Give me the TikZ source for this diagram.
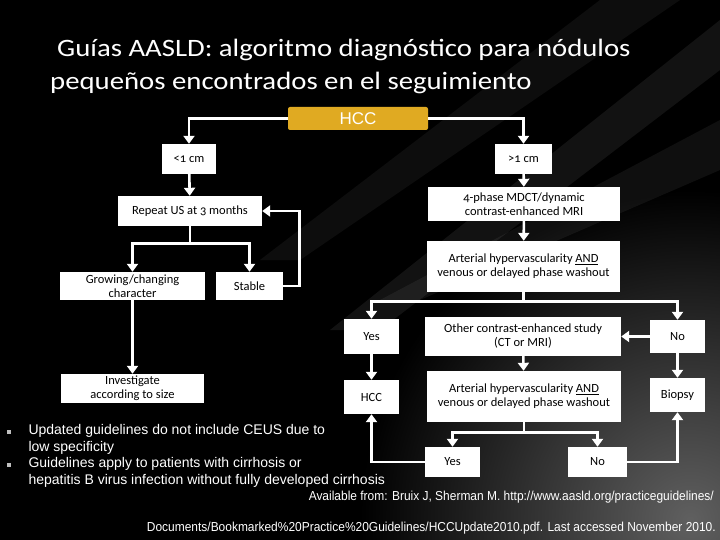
\documentclass[tikz,border=0pt]{standalone}
\usepackage{fontspec}
\setmainfont{Carlito}[Numbers=OldStyle]
\newfontfamily\arialfont{Liberation Sans}
\usetikzlibrary{arrows.meta,positioning}
\definecolor{hccgold}{RGB}{224,170,34}
\tikzset{
  box/.style={fill=white,text=black,align=center,inner sep=1pt,font=\fontsize{12.5}{14}\selectfont},
  conn/.style={draw=white,line width=2.6pt,-{Triangle[width=11pt,length=8pt]}},
  wire/.style={draw=white,line width=2.6pt},
  notetext/.style={text=white,font=\arialfont\fontsize{14}{16.6}\selectfont,align=left},
  citetext/.style={anchor=east,text=white,inner sep=0pt,font=\arialfont\fontsize{13}{15}\selectfont},
  titletext/.style={anchor=base west,inner sep=0pt,text=white,font=\fontsize{25}{28}\selectfont},
}
\begin{document}
\begin{tikzpicture}[x=1pt,y=-1pt]
                \fill[black] (0,0) rectangle (720,540);
                \begin{scope}
                \clip (0,0) rectangle (720,540);
                \shade[inner color=gray!75!black,outer color=black] (690,520) circle (330);
                \fill[white,opacity=0.07] (720,20) -- (720,70) -- (380,330) -- (330,330) -- cycle;
                \fill[white,opacity=0.06] (720,120) -- (720,170) -- (420,300) -- (380,300) -- cycle;
                \fill[white,opacity=0.05] (600,0) -- (680,0) -- (300,260) -- (260,260) -- cycle;
                \end{scope}
                \useasboundingbox (0,0) rectangle (720,540);
                \node[titletext] (title1) at (57,57) {\scalebox{1.15}[1]{Guías AASLD: algoritmo diagnóstico para nódulos}};
                \node[titletext] (title2) at (50,90) {\scalebox{1.15}[1]{pequeños encontrados en el seguimiento}};
                \node[fill=hccgold,rounded corners=2pt,minimum width=140pt,minimum height=23pt,text=white,font=\arialfont\fontsize{17}{19}\selectfont] (hcc) at (358,118.5) {HCC};
                \node[box,minimum width=54pt,minimum height=30pt] (lt) at (189,159) {<1 cm};
                \node[box,minimum width=57pt,minimum height=30pt] (gt) at (523.5,159) {>1 cm};
                \node[box,minimum width=144pt,minimum height=30pt] (repeat) at (190,211) {Repeat US at 3 months};
                \node[box,minimum width=192pt,minimum height=34pt] (mdct) at (524,204) {4-phase MDCT/dynamic\\contrast-enhanced MRI};
                \node[box,minimum width=193pt,minimum height=51pt] (art1) at (523.5,266.5) {Arterial hypervascularity \underline{AND}\\venous or delayed phase washout};
                \node[box,minimum width=145pt,minimum height=28pt] (grow) at (132.5,286) {Growing/changing\\character};
                \node[box,minimum width=67pt,minimum height=28pt] (stable) at (249.5,286) {Stable};
                \node[box,minimum width=55pt,minimum height=35pt] (yes1) at (371.5,336.5) {Yes};
                \node[box,minimum width=196pt,minimum height=39pt] (other) at (523,336.5) {Other contrast-enhanced study\\(CT or MRI)};
                \node[box,minimum width=55pt,minimum height=33pt] (no1) at (677.5,336.5) {No};
                \node[box,minimum width=143pt,minimum height=29pt] (invest) at (132.5,388.5) {Investigate\\according to size};
                \node[box,minimum width=55pt,minimum height=34pt] (hcc2) at (371.5,397) {HCC};
                \node[box,minimum width=194pt,minimum height=51pt] (art2) at (524,396.5) {Arterial hypervascularity \underline{AND}\\venous or delayed phase washout};
                \node[box,minimum width=55pt,minimum height=34pt] (biopsy) at (677.5,395) {Biopsy};
                \node[box,minimum width=55pt,minimum height=30pt] (yes2) at (452.5,462) {Yes};
                \node[box,minimum width=59pt,minimum height=30pt] (no2) at (597.5,462) {No};
                \draw[conn] (hcc.west) -| (lt.north);
                \draw[conn] (hcc.east) -| (gt.north);
                \draw[conn] (lt) -- (repeat);
                \draw[conn] (gt) -- (mdct);
                \draw[conn] (mdct) -- (art1);
                \draw[wire] (repeat.south) -- ++(0,17) coordinate (R1);
                \draw[conn] (R1) -| (grow.north);
                \draw[conn] (R1) -| (stable.north);
                \draw[conn] (stable.east) -- ++(16,0) |- (repeat.east);
                \draw[conn] (grow) -- (invest);
                \draw[wire] (art1.south) -- ++(0,9) coordinate (A1);
                \draw[conn] (A1) -| (yes1.north);
                \draw[conn] (A1) -| (no1.north);
                \draw[conn] (no1) -- (other);
                \draw[conn] (other) -- (art2);
                \draw[conn] (yes1) -- (hcc2);
                \draw[conn] (no1) -- (biopsy);
                \draw[wire] (art2.south) -- ++(0,10) coordinate (A2);
                \draw[conn] (A2) -| (yes2.north);
                \draw[conn] (A2) -| (no2.north);
                \draw[conn] (yes2.west) -| (hcc2.south);
                \draw[conn] (no2.east) -| (biopsy.south);
                \node[fill=lightgray,minimum size=3.5pt,inner sep=0pt] (dot1) at (9,432) {};
                \node[fill=lightgray,minimum size=3.5pt,inner sep=0pt] (dot2) at (9,465) {};
                \node[notetext,anchor=north west] (notes) at (25,421) {Updated guidelines do not include CEUS due to\\low specificity\\Guidelines apply to patients with cirrhosis or\\hepatitis B virus infection without fully developed cirrhosis};
                \node[citetext] (cite1) at (714,497) {\scalebox{0.92}[1]{Available from: Bruix J, Sherman M. http://www.aasld.org/practiceguidelines/}};
                \node[citetext] (cite2) at (716,528) {\scalebox{0.92}[1]{Documents/Bookmarked\%20Practice\%20Guidelines/HCCUpdate2010.pdf. Last accessed November 2010.}};
            \end{tikzpicture}
\end{document}
